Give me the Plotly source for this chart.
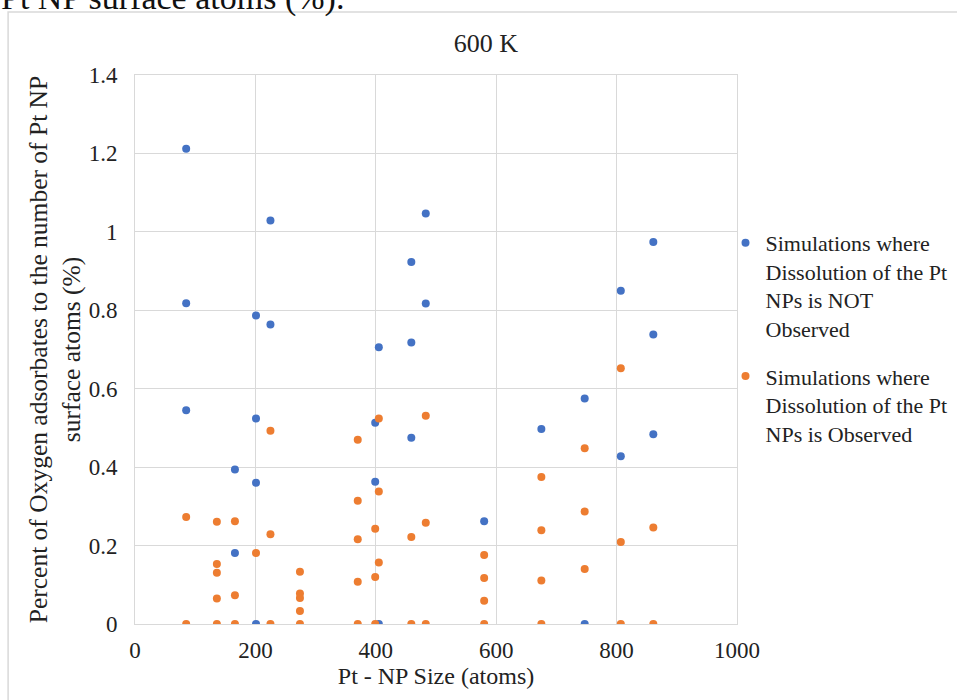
import plotly.graph_objects as go

# Pt nanoparticle sizes (atoms) and O-adsorbate percentages at 600 K
# Series 1: dissolution of the Pt NPs NOT observed
not_dissolved_size = [85, 85, 85, 166, 166, 201, 201, 201, 201, 225, 225,
                      399, 399, 405, 405, 459, 459, 459, 483, 483, 580, 675,
                      747, 747, 807, 807, 861, 861, 861]
not_dissolved_pct = [1.212, 0.818, 0.545, 0.394, 0.181, 0.787, 0.524, 0.360, 0.0,
                     1.029, 0.764, 0.513, 0.363, 0.706, 0.0, 0.923, 0.718, 0.475,
                     1.047, 0.817, 0.262, 0.497, 0.575, 0.0, 0.850, 0.428,
                     0.974, 0.738, 0.484]

# Series 2: dissolution of the Pt NPs observed
dissolved_size = [85, 85, 136, 136, 136, 136, 136, 166, 166, 166, 201,
                  225, 225, 225, 274, 274, 274, 274, 274,
                  370, 370, 370, 370, 370, 399, 399, 399, 405, 405, 405,
                  459, 459, 483, 483, 483, 580, 580, 580, 580,
                  675, 675, 675, 675, 747, 747, 747, 807, 807, 807, 861, 861]
dissolved_pct = [0.273, 0.0, 0.261, 0.153, 0.131, 0.065, 0.0, 0.262, 0.073, 0.0, 0.181,
                 0.493, 0.229, 0.0, 0.133, 0.078, 0.066, 0.033, 0.0,
                 0.470, 0.314, 0.216, 0.108, 0.0, 0.243, 0.120, 0.0, 0.524, 0.338, 0.157,
                 0.222, 0.0, 0.531, 0.258, 0.0, 0.176, 0.117, 0.059, 0.0,
                 0.375, 0.239, 0.111, 0.0, 0.448, 0.287, 0.140, 0.652, 0.209, 0.0, 0.246, 0.0]

series_names = [
    "Simulations where<br>Dissolution of the Pt<br>NPs is NOT<br>Observed",
    "Simulations where<br>Dissolution of the Pt<br>NPs is Observed",
]
series_colors = ["#4472C4", "#ED7D31"]

x_ticks = [0, 200, 400, 600, 800, 1000]
y_ticks = [0, 0.2, 0.4, 0.6, 0.8, 1.0, 1.2, 1.4]
y_tick_text = ["0", "0.2", "0.4", "0.6", "0.8", "1", "1.2", "1.4"]

FONT = "Liberation Serif, Times New Roman, serif"
GRID = "#d9d9d9"
INK = "#222222"

fig = go.Figure()
for i, (xs, ys) in enumerate([(not_dissolved_size, not_dissolved_pct),
                              (dissolved_size, dissolved_pct)]):
    fig.add_trace(go.Scatter(
        x=xs, y=ys, mode="markers", name=series_names[i],
        legendgroup=f"g{i}",
        marker=dict(color=series_colors[i], size=8, line=dict(width=0)),
    ))

W, H = 957, 700
L, R, T, B = 135, 219.5, 75, 75.7
pw, ph = W - L - R, H - T - B


def px_x(p):
    return (p - L) / pw


def px_y(p):
    return (H - B - p) / ph


fig.update_layout(
    width=W, height=H,
    margin=dict(l=L, r=R, t=T, b=B, pad=0, autoexpand=False),
    paper_bgcolor="white", plot_bgcolor="white",
    font=dict(family=FONT, size=22, color=INK),
    title=dict(text="600 K", x=486 / W, xref="container", xanchor="center",
               y=1 - 43 / H, yref="container", yanchor="middle",
               font=dict(family=FONT, size=26, color=INK)),
    showlegend=True,
    legend=dict(x=px_x(726), xanchor="left", y=px_y(222), yanchor="top",
                valign="top",
                font=dict(family=FONT, size=22, color=INK),
                tracegroupgap=16, itemsizing="trace",
                bgcolor="rgba(0,0,0,0)"),
    xaxis=dict(range=[0, 1000], tickvals=x_ticks, ticktext=[str(v) for v in x_ticks],
               showgrid=True, gridcolor=GRID, gridwidth=1,
               showline=True, linecolor=GRID, linewidth=1, mirror=True,
               zeroline=False, ticks="", ticklabelstandoff=5,
               tickfont=dict(family=FONT, size=23, color=INK),
               title=dict(text="Pt - NP Size (atoms)", standoff=2,
                          font=dict(family=FONT, size=24, color=INK))),
    yaxis=dict(range=[0, 1.4], tickvals=y_ticks, ticktext=y_tick_text,
               showgrid=True, gridcolor=GRID, gridwidth=1,
               showline=True, linecolor=GRID, linewidth=1, mirror=True,
               zeroline=False, ticks="", ticklabelstandoff=12,
               tickfont=dict(family=FONT, size=23, color=INK),
               title=dict(text="Percent of Oxygen adsorbates to the number of Pt NP<br>surface atoms (%)",
                          standoff=0,
                          font=dict(family=FONT, size=25.5, color=INK))),
    shapes=[
        # outer frame of the chart object
        dict(type="rect", xref="paper", yref="paper",
             x0=px_x(8), x1=px_x(1000), y0=px_y(760), y1=px_y(12),
             line=dict(color="#d9d9d9", width=1.5), fillcolor="rgba(0,0,0,0)",
             layer="below"),
    ],
    annotations=[
        # caption line of the surrounding text, partly above the chart frame
        dict(text="Pt NP surface atoms (%).", xref="paper", yref="paper",
             x=px_x(-1), xanchor="left", y=px_y(-2), yanchor="middle",
             showarrow=False, font=dict(family=FONT, size=34, color="#111111")),
    ],
)

fig.write_html("out.html")
